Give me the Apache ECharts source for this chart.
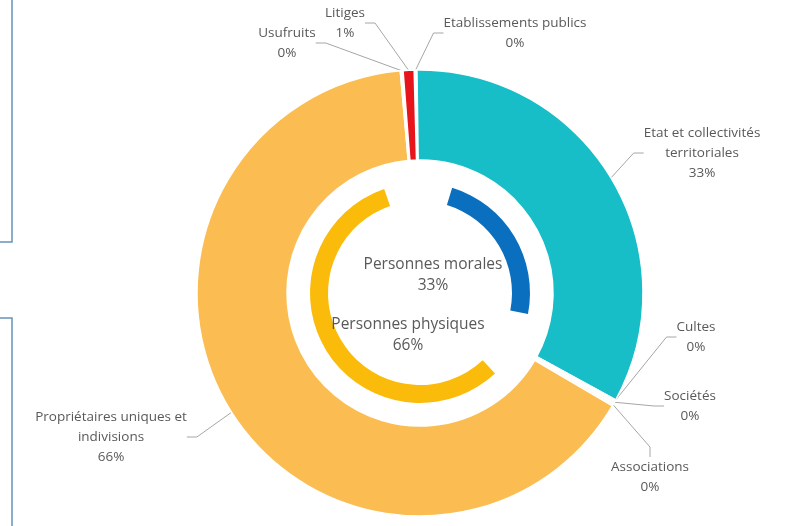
<!DOCTYPE html>
<html>
<head>
<meta charset="utf-8">
<script src="https://cdn.jsdelivr.net/npm/echarts@6/dist/echarts.min.js"></script>
<style>
  html, body { margin: 0; padding: 0; background: #fff; }
  .chart { width: 805px; height: 526px; }
</style>
</head>
<body>
<div class="chart"></div>
<script>
// outer ring (share of total, %)
const outerNames = ['Etablissements publics', 'Etat et collectivités\nterritoriales', 'Cultes', 'Sociétés',
  'Associations', 'Propriétaires uniques et\nindivisions', 'Usufruits', 'Litiges'];
const outerValues = [0.2, 33.4, 0.1, 0.2, 0.2, 65.6, 0.2, 0.8];
const outerColors = ['#f7fcfd', '#17bec8', '#fdfbf6', '#fdfbf6', '#fdfbf6', '#fbbd51', '#fdfbf6', '#e8141b'];

// inner ring
const innerNames = ['Personnes morales', 'Personnes physiques'];
const innerValues = [33, 66];
const innerColors = ['#0b6fbf', '#fbbb0a'];

// where each label sits (centre of the text block)
const outerLabelPos = [[515, 33], [702, 153], [696, 337], [690, 406], [650, 477], [111, 437], [287, 43], [345, 23]];
const innerLabelPos = [[433, 275], [408, 335]];

const dom = document.getElementsByClassName('chart')[0];
const chart = echarts.init(dom);

const font = '"Open Sans", Lato, sans-serif';

chart.setOption({
  backgroundColor: '#fff',
  animation: false,
  graphic: [
    { type: 'rect', shape: { x: -10, y: -10, width: 22, height: 252 },
      style: { fill: 'none', stroke: '#6593b5', lineWidth: 1.5 } },
    { type: 'rect', shape: { x: -10, y: 318, width: 22, height: 230 },
      style: { fill: 'none', stroke: '#6593b5', lineWidth: 1.5 } }
  ],
  series: [
    {
      type: 'pie',
      center: [420, 293],
      radius: [133, 223],
      startAngle: 91.5,
      avoidLabelOverlap: false,
      itemStyle: { borderColor: '#fff', borderWidth: 1.5 },
      label: {
        color: '#595959',
        fontFamily: font,
        fontSize: 13.5,
        lineHeight: 20,
        align: 'center',
        formatter: p => p.name + '\n' + Math.round(p.value) + '%'
      },
      labelLine: { show: true, length: 10, length2: 10, lineStyle: { color: '#a6a6a6', width: 1 } },
      labelLayout: p => {
        const pos = outerLabelPos[p.dataIndex];
        return { x: pos[0], y: pos[1], align: 'center', verticalAlign: 'middle' };
      },
      emphasis: { disabled: true },
      data: outerNames.map((n, i) => ({ name: n, value: outerValues[i], itemStyle: { color: outerColors[i] } }))
    },
    {
      type: 'pie',
      center: [420, 293],
      radius: [92, 110],
      startAngle: 91,
      padAngle: 36,
      avoidLabelOverlap: false,
      label: {
        color: '#595959',
        fontFamily: font,
        fontSize: 15.5,
        lineHeight: 21,
        align: 'center',
        formatter: p => p.name + '\n' + Math.round(p.value) + '%'
      },
      labelLine: { show: false },
      labelLayout: p => {
        const pos = innerLabelPos[p.dataIndex];
        return { x: pos[0], y: pos[1], align: 'center', verticalAlign: 'middle' };
      },
      emphasis: { disabled: true },
      data: innerNames.map((n, i) => ({ name: n, value: innerValues[i], itemStyle: { color: innerColors[i] } }))
    }
  ]
});

window.addEventListener('resize', chart.resize);
</script>
</body>
</html>
